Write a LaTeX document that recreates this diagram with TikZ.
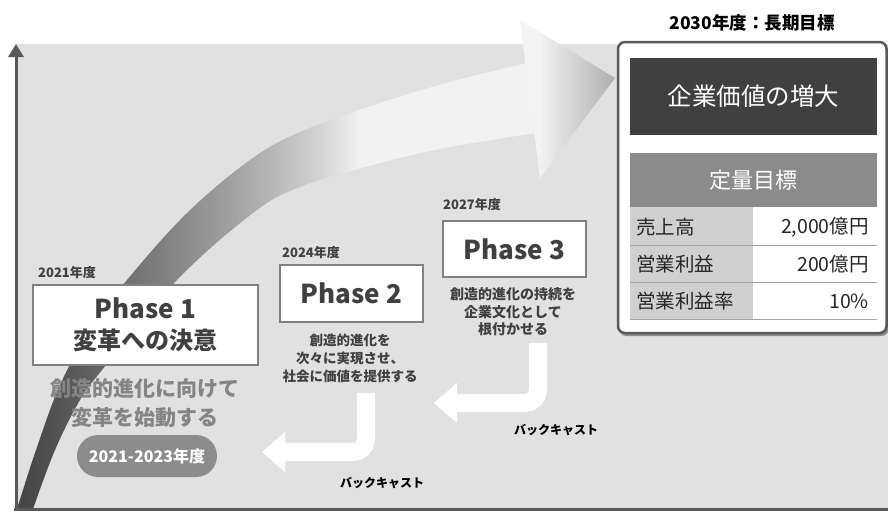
\documentclass[tikz,border=0pt]{standalone}
\usepackage{fontspec}
\setmainfont{Noto Sans CJK JP}
\usetikzlibrary{arrows.meta}
\definecolor{bgc}{HTML}{E1E1E1}
\definecolor{axisc}{HTML}{595959}
\definecolor{txtd}{HTML}{404040}
\definecolor{boxb}{HTML}{808080}
\definecolor{pillc}{HTML}{8C8C8C}
\definecolor{bigtxt}{HTML}{858585}
\definecolor{darkbox}{HTML}{404040}
\definecolor{hdrc}{HTML}{8B8B8B}
\definecolor{cellc}{HTML}{D0D0D0}
\definecolor{sepc}{HTML}{A6A6A6}
\definecolor{panelb}{HTML}{595959}
\definecolor{bA}{HTML}{474747}
\definecolor{bB}{HTML}{7B7B7B}
\definecolor{bC}{HTML}{A8A8A8}
\definecolor{bD}{HTML}{D2D2D2}
\definecolor{bE}{HTML}{F2F2F2}
\definecolor{hA}{HTML}{F3F3F3}
\definecolor{hB}{HTML}{AEAEAE}
\pgfdeclarehorizontalshading{bandshade}{100bp}{color(0bp)=(bA); color(26bp)=(bA); color(38bp)=(bB); color(47bp)=(bC); color(54bp)=(bD); color(58bp)=(bE); color(100bp)=(bE)}
\pgfdeclarehorizontalshading{headshade}{100bp}{color(0bp)=(hA); color(35bp)=(hA); color(75bp)=(hB); color(100bp)=(hB)}
\newcommand{\myfs}[2]{\fontsize{#1pt}{#2pt}\selectfont}
\tikzset{
  phasebox/.style={draw=boxb, line width=1.6pt, fill=white, text=txtd, font=\bfseries\myfs{26}{31}, align=center, inner sep=0pt},
  yearlbl/.style={text=txtd, font=\bfseries\myfs{13}{15}, anchor=west, inner sep=0pt},
  desc/.style={text=txtd, font=\bfseries\myfs{13.5}{18}, align=center, inner sep=0pt},
  backarrow/.style={draw=white, line width=18pt, rounded corners=13pt},
  backhead/.style={fill=white},
  bclbl/.style={text=black, font=\bfseries\myfs{12}{14}, inner sep=0pt},
  celltxt/.style={text=black!85, font=\myfs{19.5}{22}, inner sep=0pt}
}
\begin{document}
\begin{tikzpicture}[x=1pt, y=-1pt]
\useasboundingbox (0,0) rectangle (888,512);
% background
\fill[bgc] (16,44) rectangle (888,509);
% big curved arrow
\shade[shading=bandshade] plot[smooth, tension=0.6] coordinates {(17,509) (36,450) (60,385) (90,330) (127,280) (187,213) (250,160) (300,132) (380,103) (450,82) (527,63)}
  -- plot[smooth, tension=0.6] coordinates {(536,133) (450,147) (380,163) (300,187) (253,213) (177,280) (102,370) (80,400) (55,450) (33,509)} -- cycle;
\shade[shading=headshade] (520,20) -- (615,78) -- (540,178) -- cycle;
% axes
\draw[axisc, line width=2.5pt] (14,509.5) -- (888,509.5);
\draw[axisc, line width=3pt, -{Triangle[width=15pt,length=13pt]}] (16,510) -- (16,44);
% phase 1
\node[yearlbl] (y1) at (38,273) {2021年度};
\node[phasebox, minimum width=225pt, minimum height=80pt] (p1) at (145.5,325) {Phase 1\\{\myfs{24}{31}変革への決意}};
\node[text=bigtxt, font=\bfseries\myfs{21}{29}, align=center, inner sep=0pt] (d1) at (145,403) {創造的進化に向けて\\変革を始動する};
\node[fill=pillc, rounded corners=21pt, minimum width=140pt, minimum height=42pt, text=white, font=\bfseries\myfs{16}{18}, inner sep=0pt] (pill) at (147,456) {2021-2023年度};
% phase 2
\node[yearlbl] (y2) at (282,253) {2024年度};
\node[phasebox, minimum width=143pt, minimum height=57pt] (p2) at (351.5,293.5) {Phase 2};
\node[desc] (d2) at (350,358) {創造的進化を\\次々に実現させ、\\社会に価値を提供する};
% phase 3
\node[yearlbl] (y3) at (443,205) {2027年度};
\node[phasebox, minimum width=143pt, minimum height=56pt] (p3) at (514.5,249) {Phase 3};
\node[desc, font=\bfseries\myfs{14}{17.5}] (d3) at (513,312) {創造的進化の持続を\\企業文化として\\根付かせる};
% backcast arrows
\coordinate (b1s) at (538,343);
\coordinate (b1c) at (538,403);
\coordinate (b1e) at (456,403);
\draw[backarrow] (b1s) -- (b1c) -- (b1e);
\fill[backhead] (434,403) -- (457,383) -- (457,423) -- cycle;
\node[bclbl] (bc1) at (556,430) {バックキャスト};
\coordinate (b2s) at (366,393);
\coordinate (b2c) at (366,452);
\coordinate (b2e) at (284,452);
\draw[backarrow] (b2s) -- (b2c) -- (b2e);
\fill[backhead] (262,452) -- (285,432) -- (285,472) -- cycle;
\node[bclbl] (bc2) at (382,483) {バックキャスト};
% right panel
\node[text=black, font=\bfseries\myfs{17.5}{20}, inner sep=0pt] (ttl) at (752,23) {2030年度：長期目標};
\fill[black!45, rounded corners=7pt] (619.5,44.5) rectangle (888.5,336);
\draw[panelb, fill=white, line width=2.5pt, rounded corners=7pt] (618,42) rectangle (886.5,333);
\node[fill=darkbox, minimum width=247pt, minimum height=77pt, text=white, font=\myfs{24.5}{27}, inner sep=0pt] (goal) at (753.5,96.5) {企業価値の増大};
\node[fill=hdrc, minimum width=247pt, minimum height=54pt, text=white, font=\myfs{22}{24}, inner sep=0pt] (hdr) at (753.5,180) {定量目標};
\fill[cellc] (630,207) rectangle (753,319);
\foreach \yy in {245,282,319} \draw[sepc, line width=1pt] (630,\yy) -- (877,\yy);
\node[celltxt, anchor=west] (l1) at (636,227) {売上高};
\node[celltxt, anchor=west] (l2) at (636,264) {営業利益};
\node[celltxt, anchor=west] (l3) at (636,301) {営業利益率};
\node[celltxt, anchor=east] (v1) at (869,227) {2,000億円};
\node[celltxt, anchor=east] (v2) at (869,264) {200億円};
\node[celltxt, anchor=east] (v3) at (869,301) {10\%};
\end{tikzpicture}
\end{document}
